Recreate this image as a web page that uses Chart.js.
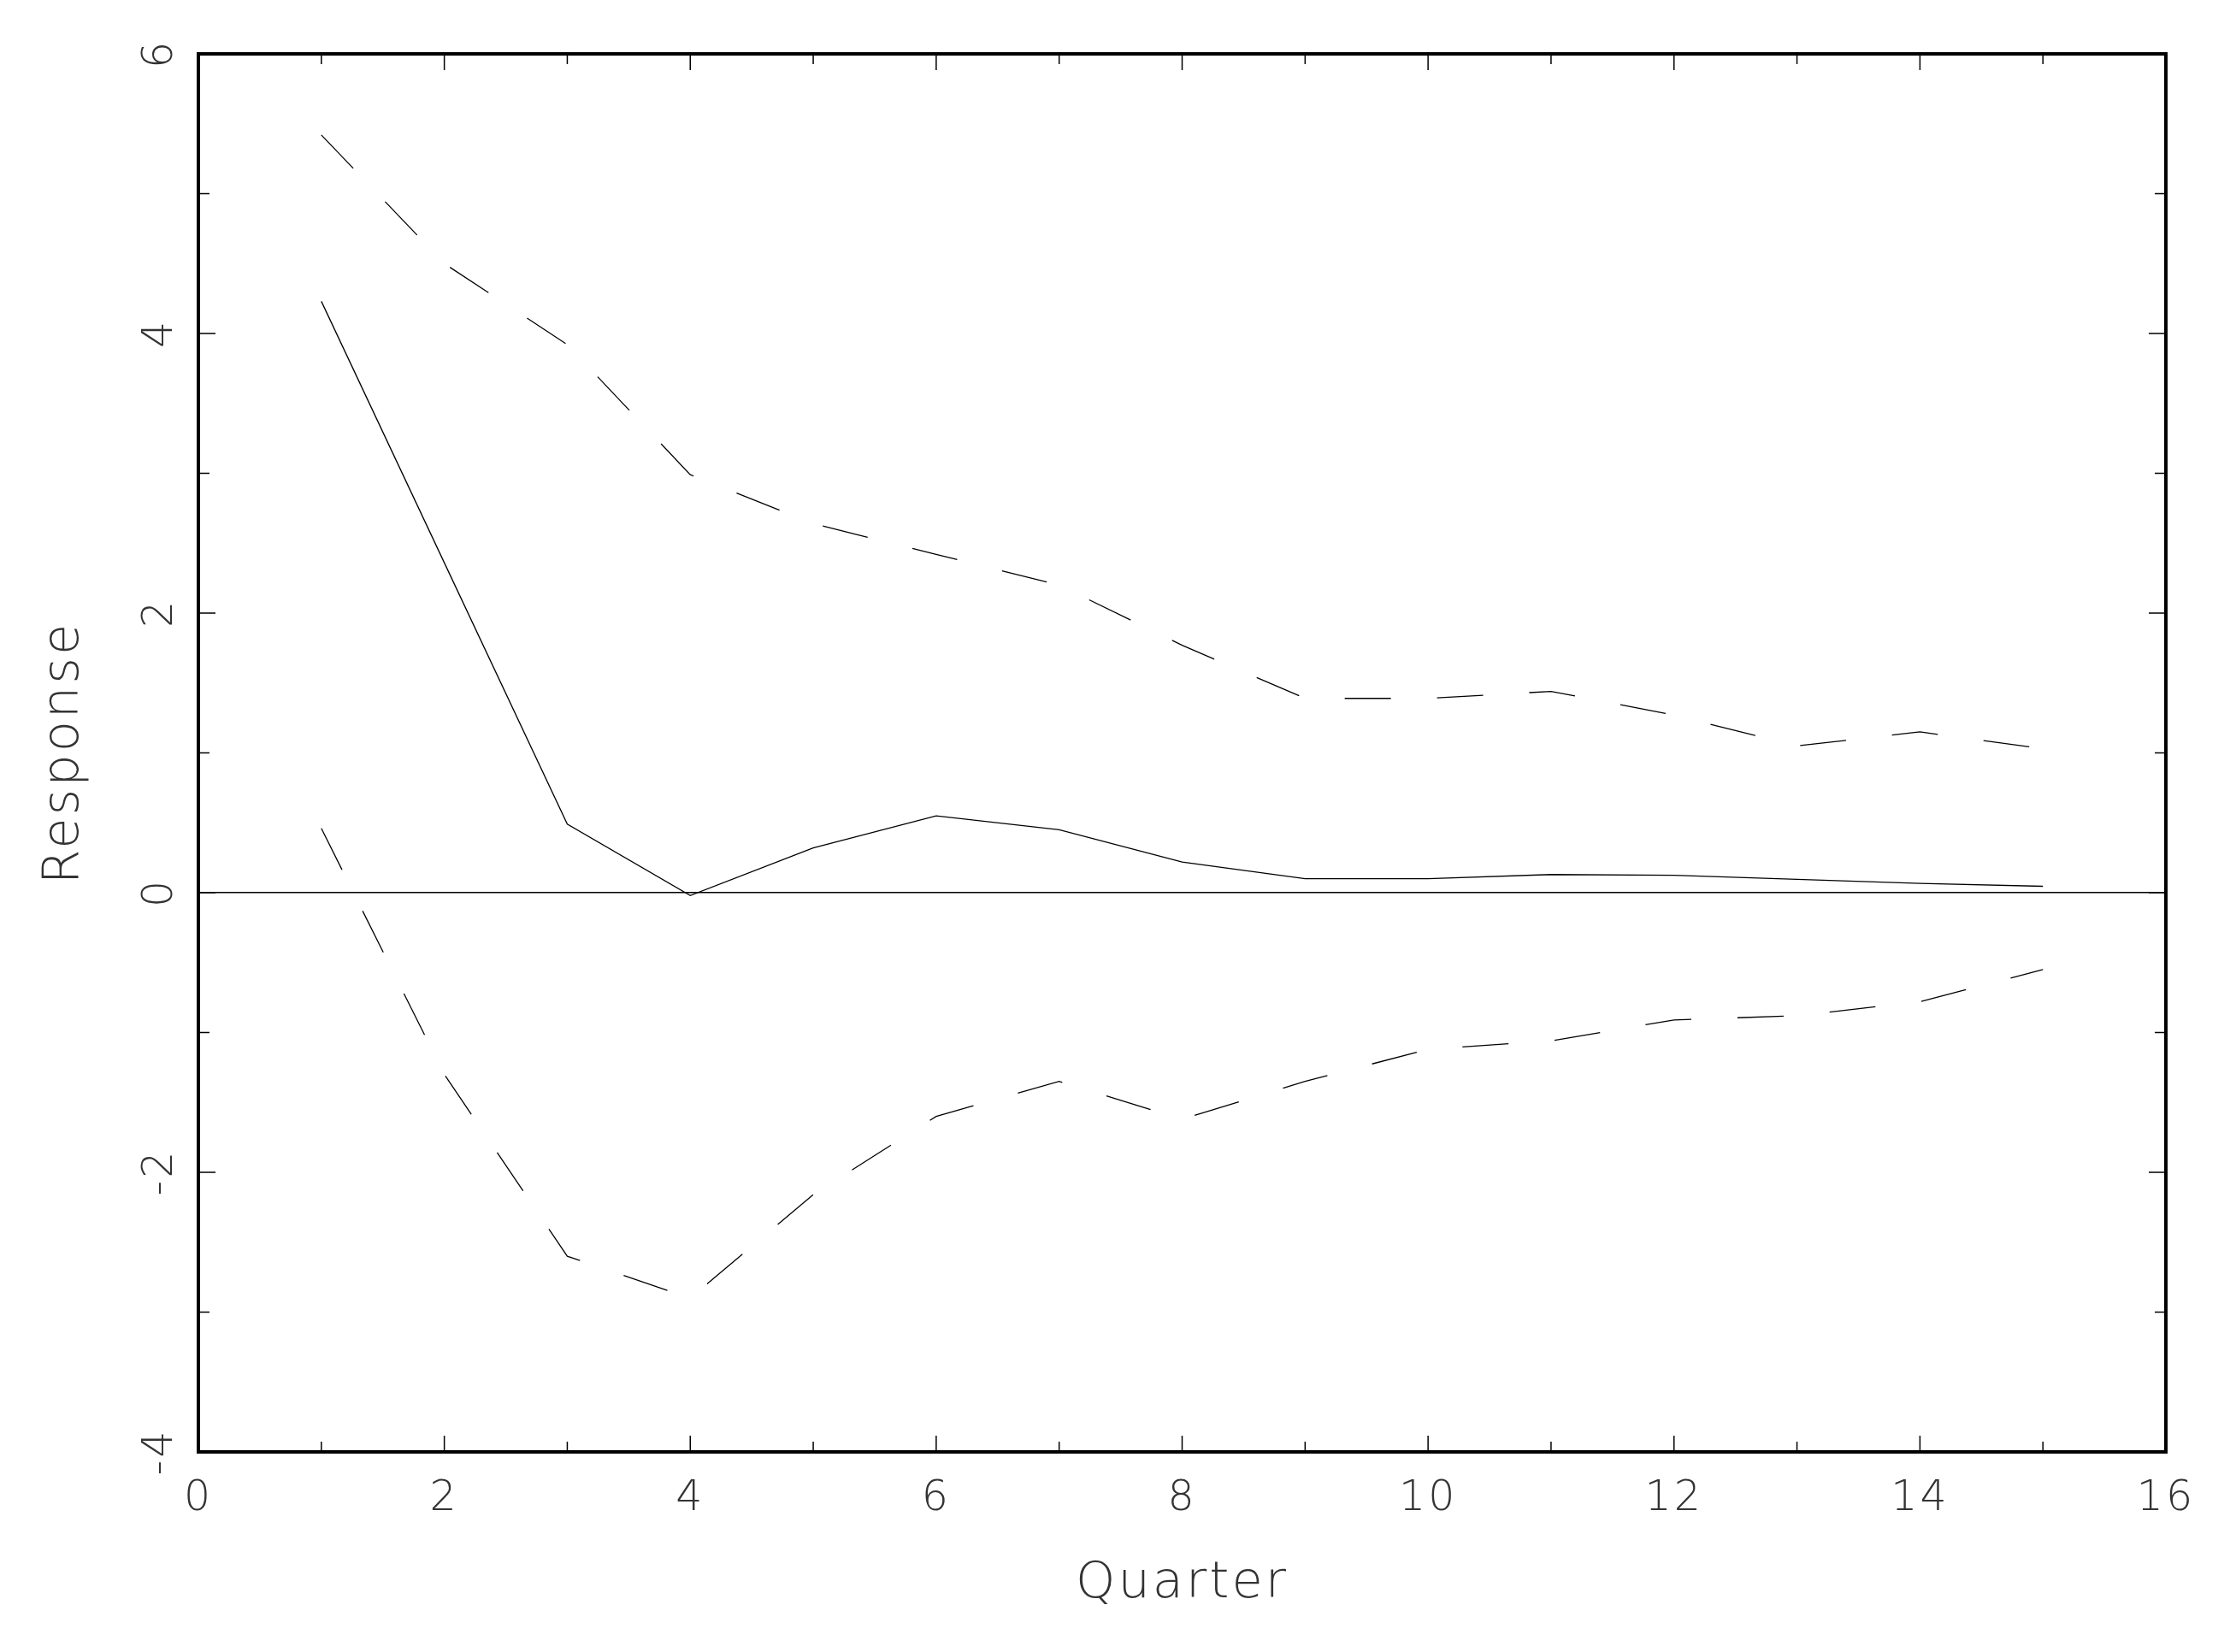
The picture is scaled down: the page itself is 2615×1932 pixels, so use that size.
<!DOCTYPE html>
<html>
<head>
<meta charset="utf-8">
<title>Response</title>
<script src="https://cdn.jsdelivr.net/npm/chart.js@4.4.1/dist/chart.umd.min.js"></script>
<style>
  html, body { margin: 0; padding: 0; background: #fff; }
  canvas { display: block; }
</style>
</head>
<body>
<canvas id="irfChart" width="2615" height="1932"></canvas>
<script>
// values
const quarters  = [1, 2, 3, 4, 5, 6, 7, 8, 9, 10, 11, 12, 13, 14, 15];
const response  = [4.23, 2.36, 0.49, -0.02, 0.32, 0.55, 0.45, 0.22, 0.10, 0.10, 0.13, 0.125, 0.095, 0.067, 0.046];
const upperBand = [5.42, 4.50, 3.92, 2.99, 2.64, 2.42, 2.20, 1.77, 1.39, 1.39, 1.44, 1.27, 1.05, 1.15, 1.03];
const lowerBand = [0.46, -1.30, -2.60, -2.90, -2.16, -1.60, -1.35, -1.62, -1.35, -1.12, -1.06, -0.91, -0.88, -0.78, -0.55];

const xTicks = [0, 2, 4, 6, 8, 10, 12, 14, 16];
const yTicks = [-4, -2, 0, 2, 4, 6];

const fontFamily = "'DejaVu Sans', sans-serif";
const tickFont = { family: fontFamily, size: 49, weight: '200', lineHeight: 1 };
const titleFont = { family: fontFamily, size: 59, weight: '200', lineHeight: 1 };
const textColor = '#333';

// width of the widest y label, so the rotated labels sit at the right spot
const mctx = document.createElement('canvas').getContext('2d');
mctx.font = "200 49px " + fontFamily;
const widestY = Math.max(...yTicks.map(v => mctx.measureText(String(v)).width));

function toPoints(values) {
  return quarters.map((q, i) => ({ x: q, y: values[i] }));
}

// box round the plot and the inward tick marks on all four sides
const framePlugin = {
  id: 'frame',
  beforeDraw(chart) {
    // the original lettering is a bit spread out
    chart.ctx.letterSpacing = '3px';
  },
  afterDraw(chart) {
    const { ctx, chartArea: a, scales: { x, y } } = chart;
    ctx.save();
    ctx.strokeStyle = '#000';
    ctx.lineWidth = 1.5;
    ctx.beginPath();
    for (let v = x.min; v <= x.max; v++) {
      const px = x.getPixelForValue(v);
      const len = xTicks.includes(v) ? 19 : 12;
      ctx.moveTo(px, a.bottom); ctx.lineTo(px, a.bottom - len);
      ctx.moveTo(px, a.top); ctx.lineTo(px, a.top + len);
    }
    for (let v = y.min; v <= y.max; v++) {
      const py = y.getPixelForValue(v);
      const len = yTicks.includes(v) ? 20 : 13;
      ctx.moveTo(a.left, py); ctx.lineTo(a.left + len, py);
      ctx.moveTo(a.right, py); ctx.lineTo(a.right - len, py);
    }
    ctx.stroke();
    ctx.lineWidth = 4;
    ctx.strokeRect(a.left, a.top, a.right - a.left, a.bottom - a.top);
    ctx.restore();
  }
};

new Chart(document.getElementById('irfChart'), {
  type: 'line',
  data: {
    datasets: [
      { label: 'Response', data: toPoints(response), borderColor: '#000', borderWidth: 1.3 },
      { label: 'Upper', data: toPoints(upperBand), borderColor: '#000', borderWidth: 1.3, borderDash: [54, 54] },
      { label: 'Lower', data: toPoints(lowerBand), borderColor: '#000', borderWidth: 1.3, borderDash: [54, 54] }
    ]
  },
  options: {
    responsive: false,
    devicePixelRatio: 1,
    animation: false,
    layout: { padding: { top: 63, right: 82, bottom: 0, left: 0 } },
    elements: { point: { radius: 0 }, line: { tension: 0, fill: false } },
    plugins: { legend: { display: false }, tooltip: { enabled: false } },
    scales: {
      x: {
        type: 'linear',
        position: 'bottom',
        min: 0,
        max: 16,
        afterBuildTicks: s => { s.ticks = xTicks.map(v => ({ value: v })); },
        afterFit: s => { s.height = 234; },
        grid: { display: false, drawTicks: false, tickLength: 0 },
        border: { display: false },
        ticks: { font: tickFont, color: textColor, padding: 31, maxRotation: 0, autoSkip: false },
        title: { display: true, text: 'Quarter', font: titleFont, color: textColor, padding: { top: 0, bottom: 50 } }
      },
      y: {
        type: 'linear',
        position: 'left',
        min: -4,
        max: 6,
        afterBuildTicks: s => { s.ticks = yTicks.map(v => ({ value: v })); },
        afterFit: s => { s.width = 232; },
        grid: {
          drawTicks: false,
          tickLength: 0,
          lineWidth: 1.5,
          color: c => (c.tick && c.tick.value === 0 ? '#000' : 'rgba(0,0,0,0)')
        },
        border: { display: false },
        ticks: {
          font: tickFont, color: textColor, padding: 44 - widestY / 2,
          minRotation: 90, maxRotation: 90, crossAlign: 'center', autoSkip: false
        },
        title: { display: true, text: 'Response', font: titleFont, color: textColor, padding: { top: 46, bottom: 0 } }
      }
    }
  },
  plugins: [framePlugin]
});
</script>
</body>
</html>
